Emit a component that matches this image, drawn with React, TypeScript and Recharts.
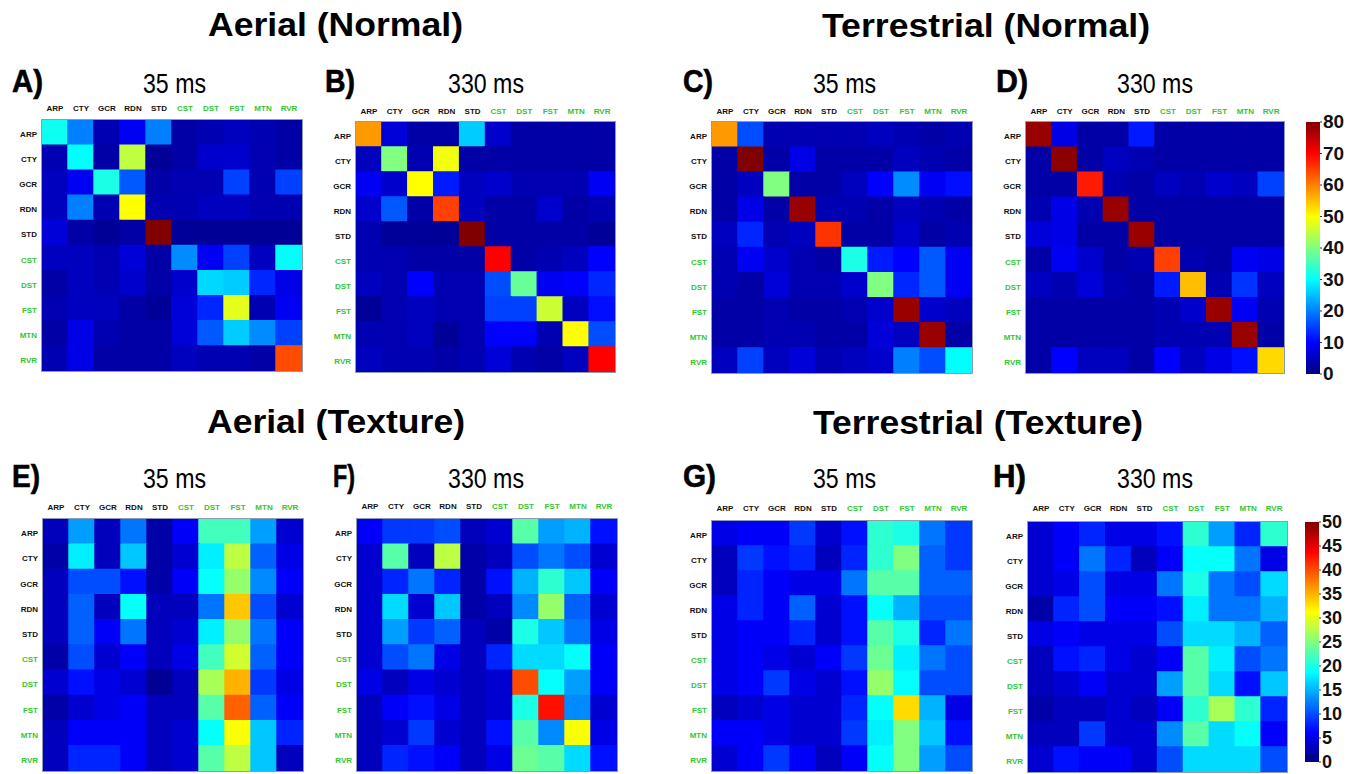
import React from 'react';
import { BarChart, Bar, XAxis, YAxis, Cell } from 'recharts';

// ---------- categories ----------
const classes = ['ARP', 'CTY', 'GCR', 'RDN', 'STD', 'CST', 'DST', 'FST', 'MTN', 'RVR'];
const normalTicks = [0, 10, 20, 30, 40, 50, 60, 70, 80];
const textureTicks = [0, 5, 10, 15, 20, 25, 30, 35, 40, 45, 50];
const normalMax = 80;
const textureMax = 50;

// ---------- confusion matrices (rows = true class, cols = predicted) ----------
const aerialNormal35 = [
  [31, 20, 4, 9, 20, 3, 4, 5, 4, 3],
  [4, 30, 3, 45, 2, 3, 6, 6, 4, 3],
  [5, 9, 32, 17, 3, 4, 4, 15, 4, 15],
  [5, 20, 4, 50, 4, 4, 5, 5, 4, 4],
  [7, 3, 2, 3, 80, 2, 2, 2, 2, 2],
  [5, 5, 4, 7, 3, 21, 9, 15, 5, 30],
  [3, 5, 4, 6, 3, 6, 27, 26, 13, 8],
  [4, 5, 5, 3, 2, 7, 13, 48, 4, 9],
  [3, 8, 4, 3, 3, 7, 17, 26, 21, 15],
  [4, 8, 3, 3, 3, 5, 4, 4, 3, 64],
];
const aerialNormal330 = [
  [58, 7, 3, 3, 26, 6, 3, 3, 3, 3],
  [5, 40, 4, 49, 3, 3, 3, 3, 3, 3],
  [9, 6, 50, 12, 5, 6, 4, 4, 4, 9],
  [6, 17, 3, 65, 5, 3, 3, 6, 3, 4],
  [4, 2, 2, 2, 80, 3, 3, 3, 3, 2],
  [4, 4, 3, 3, 3, 70, 3, 4, 5, 10],
  [5, 4, 10, 4, 4, 16, 38, 9, 10, 13],
  [2, 4, 5, 4, 4, 15, 15, 46, 5, 11],
  [4, 4, 5, 2, 4, 10, 10, 4, 50, 16],
  [5, 4, 4, 3, 4, 7, 4, 3, 5, 70],
];
const terrestrialNormal35 = [
  [58, 16, 4, 4, 4, 4, 5, 4, 3, 4],
  [3, 80, 3, 8, 3, 3, 3, 5, 4, 3],
  [3, 5, 40, 3, 3, 5, 10, 21, 9, 11],
  [3, 8, 3, 78, 4, 4, 3, 5, 4, 3],
  [5, 13, 4, 5, 66, 3, 3, 6, 3, 4],
  [4, 9, 6, 4, 3, 32, 12, 10, 17, 9],
  [4, 3, 7, 4, 4, 6, 40, 13, 17, 9],
  [3, 3, 4, 3, 3, 4, 6, 78, 6, 5],
  [3, 3, 4, 4, 3, 3, 7, 5, 78, 3],
  [5, 15, 5, 7, 4, 5, 6, 20, 16, 30],
];
const terrestrialNormal330 = [
  [78, 8, 3, 3, 12, 3, 3, 3, 3, 3],
  [3, 79, 3, 5, 4, 3, 3, 3, 3, 3],
  [3, 3, 68, 4, 3, 5, 4, 6, 5, 15],
  [4, 8, 4, 78, 3, 3, 3, 3, 3, 3],
  [7, 8, 3, 3, 78, 3, 3, 3, 3, 3],
  [3, 9, 6, 3, 4, 65, 4, 3, 9, 8],
  [5, 4, 7, 4, 3, 12, 55, 4, 14, 5],
  [3, 3, 3, 3, 3, 4, 6, 78, 9, 4],
  [3, 3, 3, 3, 3, 4, 4, 4, 78, 3],
  [3, 10, 5, 5, 3, 10, 5, 8, 11, 53],
];
const aerialTexture35 = [
  [3, 14, 3, 12, 2, 6, 22, 22, 14, 4],
  [2, 18, 3, 16, 2, 4, 18, 28, 11, 5],
  [3, 10, 10, 7, 2, 6, 19, 26, 13, 6],
  [3, 11, 3, 19, 3, 3, 12, 34, 10, 4],
  [3, 11, 6, 12, 3, 4, 18, 26, 12, 6],
  [2, 10, 4, 6, 3, 5, 22, 29, 11, 6],
  [4, 7, 5, 4, 1, 3, 27, 35, 9, 5],
  [2, 4, 5, 6, 3, 3, 23, 39, 11, 6],
  [3, 6, 6, 6, 3, 4, 19, 31, 16, 8],
  [3, 8, 8, 6, 3, 4, 23, 28, 16, 3],
];
const aerialTexture330 = [
  [6, 9, 9, 10, 3, 4, 23, 14, 15, 7],
  [4, 23, 3, 28, 2, 3, 10, 12, 10, 4],
  [4, 8, 12, 8, 2, 7, 15, 21, 16, 6],
  [4, 17, 4, 16, 2, 3, 13, 26, 11, 4],
  [4, 14, 9, 11, 3, 2, 20, 16, 12, 5],
  [4, 10, 12, 5, 3, 8, 17, 17, 19, 6],
  [5, 3, 5, 4, 3, 4, 40, 19, 14, 6],
  [3, 6, 7, 5, 3, 4, 20, 43, 13, 4],
  [3, 4, 9, 4, 3, 7, 23, 13, 31, 5],
  [3, 8, 7, 6, 3, 5, 24, 23, 17, 7],
];
const terrestrialTexture35 = [
  [5, 6, 6, 9, 4, 7, 21, 20, 12, 9],
  [3, 9, 7, 8, 3, 8, 21, 25, 11, 9],
  [3, 8, 6, 5, 5, 12, 23, 23, 11, 11],
  [5, 8, 6, 11, 4, 7, 19, 15, 10, 10],
  [5, 6, 6, 8, 4, 7, 23, 20, 8, 12],
  [5, 6, 5, 4, 6, 9, 24, 18, 12, 10],
  [5, 6, 9, 5, 4, 7, 26, 19, 10, 10],
  [3, 4, 5, 4, 4, 8, 19, 33, 15, 5],
  [6, 6, 5, 4, 4, 9, 18, 25, 16, 7],
  [4, 6, 9, 6, 3, 6, 19, 25, 14, 10],
];
const terrestrialTexture330 = [
  [4, 6, 8, 5, 5, 7, 21, 14, 8, 21],
  [4, 6, 12, 8, 3, 6, 19, 19, 12, 5],
  [4, 5, 10, 5, 5, 12, 20, 12, 10, 17],
  [2, 8, 10, 6, 6, 7, 18, 12, 12, 15],
  [5, 6, 5, 5, 5, 10, 17, 17, 15, 11],
  [3, 7, 8, 5, 4, 6, 23, 18, 10, 12],
  [3, 4, 6, 4, 4, 14, 23, 17, 7, 16],
  [2, 3, 3, 4, 3, 6, 21, 27, 21, 8],
  [3, 3, 9, 4, 4, 13, 23, 17, 19, 6],
  [4, 7, 6, 6, 4, 10, 17, 17, 17, 10],
];

// ---------- styling ----------
const GREEN = '#33c633';
const DARK = '#111111';
const LABEL_FONT = '"Liberation Sans", Arial, sans-serif';

const clamp = (v: number) => Math.max(0, Math.min(1, v));
function jet(t: number): string {
  const x = clamp(t);
  const r = clamp(1.5 - Math.abs(4 * x - 3));
  const g = clamp(1.5 - Math.abs(4 * x - 2));
  const b = clamp(1.5 - Math.abs(4 * x - 1));
  return `rgb(${Math.round(r * 255)},${Math.round(g * 255)},${Math.round(b * 255)})`;
}

const ColTick = (props: any) => {
  const { x, y, payload } = props;
  const idx = classes.indexOf(payload.value);
  return (
    <text x={x} y={y} textAnchor="middle" fontSize={8} fontWeight="bold" fontFamily={LABEL_FONT} fill={idx >= 5 ? GREEN : DARK}>
      {payload.value}
    </text>
  );
};

const RowTick = (props: any) => {
  const { x, y, payload } = props;
  const idx = Math.floor(payload.value);
  return (
    <text x={x} y={y + 4.5} textAnchor="end" fontSize={8} fontWeight="bold" fontFamily={LABEL_FONT} fill={idx >= 5 ? GREEN : DARK}>
      {classes[idx]}
    </text>
  );
};

const rowTicks = classes.map((_, i) => i + 0.5);

type HeatProps = { matrix: number[][]; vmax: number; left: number; top: number; w: number; h: number; xMargin: number };

function Heatmap({ matrix, vmax, left, top, w, h, xMargin }: HeatProps) {
  const data = classes.map((c) => {
    const o: any = { col: c };
    classes.forEach((_, i) => {
      o['r' + i] = 1;
    });
    return o;
  });
  const YW = 45;
  const XH = 25;
  return (
    <div style={{ position: 'absolute', left: left - YW, top: top - XH }}>
      <BarChart
        width={w + YW + 2}
        height={h + XH + 2}
        data={data}
        margin={{ top: 0, right: 2, bottom: 2, left: 0 }}
        barCategoryGap={0}
        barGap={0}
      >
        <XAxis dataKey="col" orientation="top" height={XH} tickLine={false} axisLine={false} tickSize={0} tickMargin={xMargin} interval={0} tick={ColTick} />
        <YAxis
          type="number"
          domain={[0, 10]}
          reversed
          ticks={rowTicks}
          interval={0}
          width={YW}
          tickLine={false}
          axisLine={false}
          tickSize={0}
          tickMargin={5}
          tick={RowTick}
        />
        {classes.map((r, i) => (
          <Bar key={r} dataKey={'r' + i} stackId="s" isAnimationActive={false}>
            {classes.map((c, j) => {
              const col = jet(matrix[i][j] / vmax);
              return <Cell key={c} fill={col} stroke={col} strokeWidth={1.4} />;
            })}
          </Bar>
        ))}
      </BarChart>
      <div
        style={{
          position: 'absolute',
          left: YW - 1,
          top: XH - 1,
          width: w + 2,
          height: h + 2,
          border: '1px solid #8e9bb3',
          boxSizing: 'border-box',
          pointerEvents: 'none',
        }}
      />
    </div>
  );
}

type CbProps = { id: string; left: number; top: number; w: number; h: number; max: number; ticks: number[]; fs: number };

function ColorBar({ id, left, top, w, h, max, ticks, fs }: CbProps) {
  const PAD = 14;
  const AW = 40;
  const renderTick = (p: any) => (
    <text x={p.x} y={p.y + fs * 0.34} textAnchor="start" fontSize={fs} fontWeight="bold" fontFamily={LABEL_FONT} fill="#111">
      {p.payload.value}
    </text>
  );
  return (
    <div style={{ position: 'absolute', left, top: top - PAD }}>
      <BarChart width={w + AW} height={h + 2 * PAD} data={[{ k: 'c', v: max }]} margin={{ top: PAD, right: 0, bottom: PAD, left: 0 }} barCategoryGap={0}>
        <defs>
          <linearGradient id={id} x1="0" y1="1" x2="0" y2="0">
            <stop offset="0" stopColor="#000080" />
            <stop offset="0.125" stopColor="#0000ff" />
            <stop offset="0.375" stopColor="#00ffff" />
            <stop offset="0.625" stopColor="#ffff00" />
            <stop offset="0.875" stopColor="#ff0000" />
            <stop offset="1" stopColor="#800000" />
          </linearGradient>
        </defs>
        <XAxis dataKey="k" hide />
        <YAxis
          orientation="right"
          type="number"
          width={AW}
          domain={[0, max]}
          ticks={ticks}
          interval={0}
          axisLine={false}
          tickSize={2}
          tickMargin={1}
          tickLine={{ stroke: '#333' }}
          tick={renderTick}
        />
        <Bar dataKey="v" fill={`url(#${id})`} isAnimationActive={false} />
      </BarChart>
    </div>
  );
}

// ---------- layout ----------
const panels = [
  { key: 'A', m: aerialNormal35, vmax: normalMax, left: 42, top: 120, w: 260, h: 251, xm: 9 },
  { key: 'B', m: aerialNormal330, vmax: normalMax, left: 356, top: 122, w: 259, h: 250, xm: 8 },
  { key: 'C', m: terrestrialNormal35, vmax: normalMax, left: 712, top: 122, w: 260, h: 251, xm: 8 },
  { key: 'D', m: terrestrialNormal330, vmax: normalMax, left: 1026, top: 122, w: 258, h: 251, xm: 8 },
  { key: 'E', m: aerialTexture35, vmax: textureMax, left: 43, top: 519, w: 260, h: 252, xm: 9 },
  { key: 'F', m: aerialTexture330, vmax: textureMax, left: 357, top: 519, w: 260, h: 252, xm: 10 },
  { key: 'G', m: terrestrialTexture35, vmax: textureMax, left: 712, top: 521, w: 260, h: 250, xm: 10 },
  { key: 'H', m: terrestrialTexture330, vmax: textureMax, left: 1028, top: 522, w: 259, h: 250, xm: 11 },
];

const titles = [
  { t: 'Aerial (Normal)', x: 208, y: 36, len: 255 },
  { t: 'Terrestrial (Normal)', x: 822, y: 37, len: 328 },
  { t: 'Aerial (Texture)', x: 207, y: 433, len: 258 },
  { t: 'Terrestrial (Texture)', x: 813, y: 434, len: 330 },
];
const panelLetters = [
  { t: 'A)', x: 12, y: 92, len: 31 },
  { t: 'B)', x: 325, y: 92, len: 30 },
  { t: 'C)', x: 683, y: 92, len: 30 },
  { t: 'D)', x: 996, y: 92, len: 32 },
  { t: 'E)', x: 12, y: 487, len: 28 },
  { t: 'F)', x: 333, y: 487, len: 22 },
  { t: 'G)', x: 683, y: 487, len: 33 },
  { t: 'H)', x: 993, y: 487, len: 33 },
];
const timeLabels = [
  { t: '35 ms', x: 143, y: 93, len: 63 },
  { t: '330 ms', x: 448, y: 92.5, len: 76 },
  { t: '35 ms', x: 813, y: 93, len: 63 },
  { t: '330 ms', x: 1117, y: 93, len: 76 },
  { t: '35 ms', x: 143, y: 488, len: 63 },
  { t: '330 ms', x: 448, y: 488, len: 76 },
  { t: '35 ms', x: 813, y: 488, len: 63 },
  { t: '330 ms', x: 1117, y: 488, len: 76 },
];

export default function App() {
  return (
    <div style={{ position: 'absolute', left: 0, top: 0, width: 1347, height: 774, overflow: 'hidden', background: '#ffffff' }}>
      {panels.map((p) => (
        <Heatmap key={p.key} matrix={p.m} vmax={p.vmax} left={p.left} top={p.top} w={p.w} h={p.h} xMargin={p.xm} />
      ))}
      <ColorBar id="jetNormal" left={1306} top={122} w={14} h={252} max={normalMax} ticks={normalTicks} fs={19} />
      <ColorBar id="jetTexture" left={1305} top={522} w={14} h={240} max={textureMax} ticks={textureTicks} fs={18} />
      <svg width={1347} height={774} style={{ position: 'absolute', left: 0, top: 0, pointerEvents: 'none' }}>
        {titles.map((s) => (
          <text key={s.t} x={s.x} y={s.y} fontSize={34} fontWeight="bold" fontFamily={LABEL_FONT} fill="#000" textLength={s.len} lengthAdjust="spacingAndGlyphs">
            {s.t}
          </text>
        ))}
        {panelLetters.map((s) => (
          <text key={s.t} x={s.x} y={s.y} fontSize={31} fontWeight="bold" fontFamily={LABEL_FONT} fill="#000" stroke="#000" strokeWidth={0.6} textLength={s.len} lengthAdjust="spacingAndGlyphs">
            {s.t}
          </text>
        ))}
        {timeLabels.map((s, i) => (
          <text key={i} x={s.x} y={s.y} fontSize={28} fontFamily={'"Liberation Sans Narrow", ' + LABEL_FONT} fill="#000" textLength={s.len} lengthAdjust="spacingAndGlyphs">
            {s.t}
          </text>
        ))}
      </svg>
    </div>
  );
}
